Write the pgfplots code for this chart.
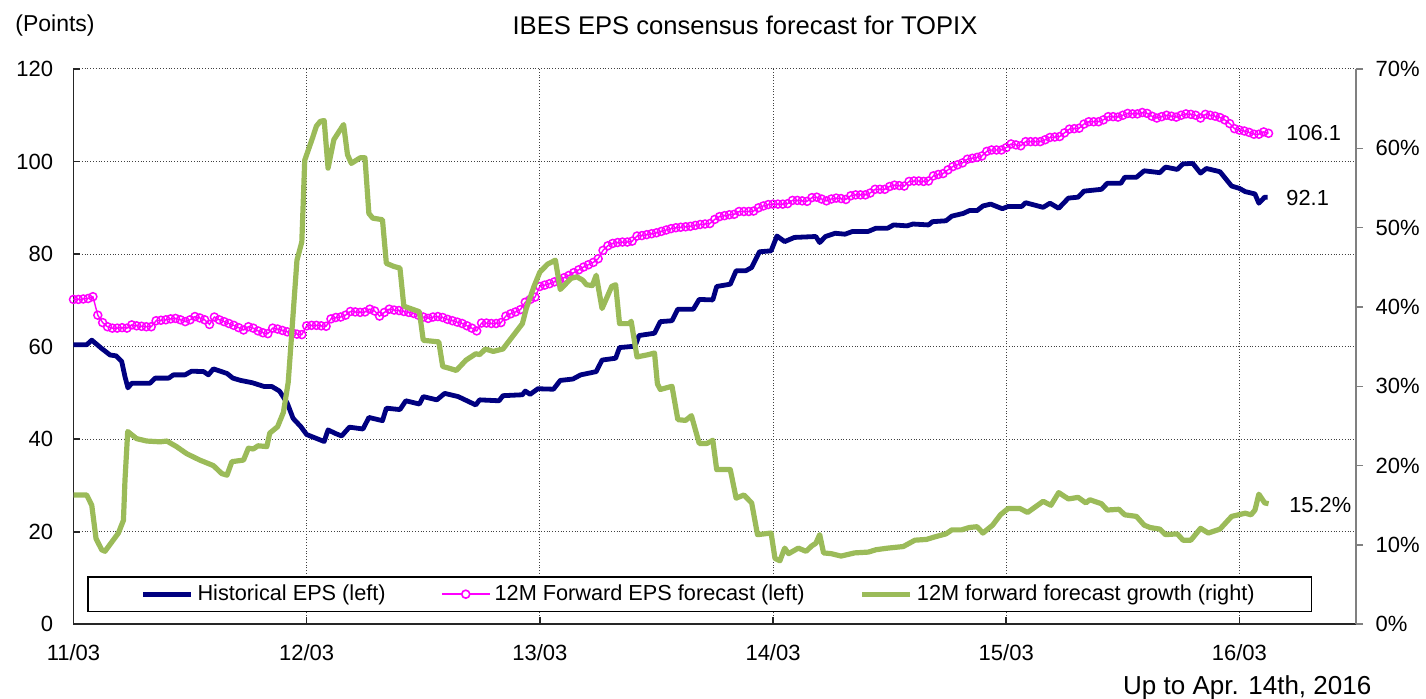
\documentclass[border=0pt]{standalone}
\usepackage{fontspec}
\setmainfont{Liberation Sans}
\usepackage{pgfplots}
\pgfplotsset{compat=1.18}
\definecolor{navyc}{RGB}{0,0,128}
\definecolor{pinkc}{RGB}{255,0,255}
\definecolor{greenc}{RGB}{155,187,89}
\begin{document}
\begin{tikzpicture}
\useasboundingbox (-36.75pt,-37.35pt) rectangle (676.25pt,312.15pt);
\begin{axis}[
 at={(0,0)}, anchor=south west,
 scale only axis, width=641.25pt, height=277.65pt,
 xmin=0, xmax=66, ymin=0, ymax=120,
 axis x line*=bottom, axis y line*=left,
 xtick={0,12,24,36,48,60}, xticklabels={11/03,12/03,13/03,14/03,15/03,16/03},
 ytick={0,20,40,60,80,100,120}, yticklabels={0,20,40,60,80,100,120},
 xmajorgrids, ymajorgrids,
 grid style={densely dotted, black!75, line width=0.5pt},
 axis line style={black!85, line width=0.8pt},
 tick style={black!85, line width=0.8pt},
 major tick length=3.5pt,
 tick align=inside,
 tick label style={font=\fontsize{11}{13}\selectfont},
 yticklabel style={xshift=-6.7pt},
 xticklabel style={yshift=-6.5pt},
 legend columns=3,
 legend cell align=left,
 legend style={at={(rel axis cs:0.0105,0.0215)}, anchor=south west,
   draw=black, line width=0.8pt, fill=white,
   font=\fontsize{10.85}{13}\selectfont,
   inner xsep=26.5pt, inner ysep=2pt,
   /tikz/every even column/.append style={column sep=25.6pt}},
 legend image code/.code={\draw[#1] (0pt,0pt) -- (24pt,0pt);},
]
\addplot[navyc, line width=2.4pt, line join=round] coordinates {
(0,60.4) (0.68,60.4) (0.94,61.4) (1.45,59.6) (1.88,58.2) (2.2,58.0) (2.48,56.8) (2.65,53.5) (2.8,51.1) (3.0,52.1) (3.94,52.1) (4.2,53.2) (4.9,53.2) (5.14,53.9) (5.74,53.9) (6.08,54.7) (6.7,54.6) (6.94,53.9) (7.2,55.2) (7.9,54.2) (8.2,53.2) (8.6,52.7) (9.2,52.2) (9.8,51.4) (10.2,51.4) (10.6,50.4) (11.0,47.8) (11.3,44.5) (11.7,42.7) (12.0,41.0) (12.9,39.5) (13.1,42.0) (13.5,41.2) (13.8,40.7) (14.2,42.6) (14.9,42.2) (15.2,44.7) (15.9,44.0) (16.1,46.7) (16.8,46.4) (17.1,48.3) (17.8,47.6) (18.0,49.2) (18.7,48.5) (19.1,49.9) (19.8,49.2) (20.7,47.4) (20.9,48.5) (21.9,48.3) (22.1,49.4) (23.1,49.6) (23.25,50.4) (23.5,49.7) (23.9,50.9) (24.7,50.8) (25.05,52.7) (25.7,53.0) (26.1,53.9) (26.9,54.6) (27.2,57.1) (27.9,57.5) (28.1,59.8) (28.9,60.1) (29.1,62.4) (29.9,62.9) (30.2,65.4) (30.8,65.6) (31.1,68.1) (31.9,68.1) (32.2,70.2) (32.9,70.1) (33.1,73.0) (33.8,73.5) (34.1,76.4) (34.6,76.4) (34.9,77.1) (35.3,80.5) (35.9,80.7) (36.2,83.9) (36.6,82.7) (37.1,83.6) (38.2,83.8) (38.4,82.5) (38.7,83.8) (39.2,84.5) (39.7,84.3) (40.1,84.9) (40.9,84.9) (41.3,85.6) (41.9,85.6) (42.2,86.3) (42.9,86.1) (43.2,86.5) (44.0,86.3) (44.2,87.0) (44.9,87.2) (45.2,88.2) (45.8,88.8) (46.1,89.4) (46.5,89.4) (46.8,90.4) (47.2,90.8) (47.8,89.8) (48.1,90.3) (48.8,90.3) (49.0,91.1) (49.9,90.1) (50.25,91.0) (50.7,89.9) (51.2,92.1) (51.7,92.3) (52.0,93.6) (52.9,94.0) (53.2,95.3) (53.9,95.3) (54.1,96.6) (54.7,96.6) (55.1,98.0) (55.9,97.6) (56.2,98.8) (56.8,98.3) (57.1,99.5) (57.6,99.6) (58.0,97.5) (58.3,98.5) (59.0,97.8) (59.6,94.7) (60.0,94.2) (60.3,93.5) (60.8,93.0) (61.0,91.0) (61.3,92.3) (61.45,92.3)
};
\addlegendentry{Historical EPS (left)}
\addplot[pinkc, line width=0.7pt, mark=o, mark size=2pt, mark options={solid, line width=0.75pt},
 legend image code/.code={\draw[pinkc, line width=0.9pt] (0pt,0pt) -- (24pt,0pt); \draw[pinkc, line width=0.8pt, fill=white] (12pt,0pt) circle (2pt);}] coordinates {
(0,70.2) (0.25,70.2) (0.5,70.3) (0.75,70.4) (1.0,70.8) (1.25,66.8) (1.5,65.2) (1.75,64.3) (2.0,64.0) (2.25,64.0) (2.5,64.1) (2.75,64.0) (3.0,64.7) (3.25,64.5) (3.5,64.4) (3.75,64.3) (4.0,64.3) (4.25,65.6) (4.5,65.7) (4.75,65.8) (5.0,66.0) (5.25,66.1) (5.5,65.8) (5.75,65.4) (6.0,65.8) (6.25,66.5) (6.5,66.2) (6.75,65.8) (7.0,64.8) (7.25,66.4) (7.5,65.8) (7.75,65.4) (8.0,65.0) (8.25,64.6) (8.5,64.1) (8.75,63.6) (9.0,64.3) (9.25,64.0) (9.5,63.4) (9.75,63.0) (10.0,62.8) (10.25,64.0) (10.5,63.8) (10.75,63.5) (11.0,63.2) (11.25,63.0) (11.5,62.7) (11.75,62.6) (12.0,64.5) (12.25,64.6) (12.5,64.6) (12.75,64.5) (13.0,64.4) (13.25,66.0) (13.5,66.3) (13.75,66.4) (14.0,66.8) (14.25,67.6) (14.5,67.5) (14.75,67.4) (15.0,67.5) (15.25,68.1) (15.5,67.7) (15.75,66.6) (16.0,67.4) (16.25,68.1) (16.5,67.9) (16.75,67.8) (17.0,67.6) (17.25,67.4) (17.5,67.2) (17.75,66.8) (18.0,66.4) (18.25,66.1) (18.5,66.4) (18.75,66.5) (19.0,66.3) (19.25,65.9) (19.5,65.6) (19.75,65.3) (20.0,65.0) (20.25,64.5) (20.5,64.0) (20.75,63.4) (21.0,65.1) (21.25,65.1) (21.5,65.0) (21.75,65.0) (22.0,65.2) (22.25,66.6) (22.5,67.1) (22.75,67.5) (23.0,68.0) (23.25,69.6) (23.5,70.2) (23.75,70.7) (24.0,73.0) (24.25,73.3) (24.5,73.6) (24.75,74.0) (25.0,74.4) (25.25,74.9) (25.5,75.4) (25.75,76.0) (26.0,76.6) (26.25,77.2) (26.5,77.7) (26.75,78.2) (27.0,79.0) (27.25,80.8) (27.5,81.8) (27.75,82.3) (28.0,82.5) (28.25,82.6) (28.5,82.6) (28.75,82.8) (29.0,83.9) (29.25,84.0) (29.5,84.2) (29.75,84.4) (30.0,84.6) (30.25,84.9) (30.5,85.2) (30.75,85.5) (31.0,85.7) (31.25,85.8) (31.5,85.9) (31.75,86.0) (32.0,86.2) (32.25,86.4) (32.5,86.5) (32.75,86.6) (33.0,87.5) (33.25,88.1) (33.5,88.3) (33.75,88.5) (34.0,88.6) (34.25,89.2) (34.5,89.2) (34.75,89.2) (35.0,89.3) (35.25,90.0) (35.5,90.4) (35.75,90.7) (36.0,90.8) (36.25,90.8) (36.5,90.8) (36.75,90.9) (37.0,91.6) (37.25,91.6) (37.5,91.5) (37.75,91.4) (38.0,92.2) (38.25,92.3) (38.5,91.9) (38.75,91.5) (39.0,91.9) (39.25,92.1) (39.5,92.0) (39.75,91.8) (40.0,92.6) (40.25,92.8) (40.5,92.8) (40.75,92.8) (41.0,93.2) (41.25,94.0) (41.5,94.0) (41.75,94.0) (42.0,94.6) (42.25,94.9) (42.5,94.8) (42.75,94.7) (43.0,95.7) (43.25,95.8) (43.5,95.8) (43.75,95.7) (44.0,95.8) (44.25,96.9) (44.5,97.2) (44.75,97.4) (45.0,98.2) (45.25,98.9) (45.5,99.3) (45.75,99.7) (46.0,100.5) (46.25,100.7) (46.5,100.9) (46.75,101.2) (47.0,102.2) (47.25,102.5) (47.5,102.5) (47.75,102.5) (48.0,103.0) (48.25,103.8) (48.5,103.6) (48.75,103.4) (49.0,104.3) (49.25,104.3) (49.5,104.3) (49.75,104.3) (50.0,104.7) (50.25,105.2) (50.5,105.3) (50.75,105.4) (51.0,106.2) (51.25,107.0) (51.5,107.1) (51.75,107.2) (52.0,108.1) (52.25,108.6) (52.5,108.6) (52.75,108.6) (53.0,109.0) (53.25,109.7) (53.5,109.7) (53.75,109.6) (54.0,110.0) (54.25,110.4) (54.5,110.3) (54.75,110.3) (55.0,110.6) (55.25,110.4) (55.5,109.8) (55.75,109.4) (56.0,109.7) (56.25,110.0) (56.5,109.8) (56.75,109.6) (57.0,110.0) (57.25,110.3) (57.5,110.2) (57.75,110.0) (58.0,109.4) (58.25,110.2) (58.5,110.0) (58.75,109.8) (59.0,109.5) (59.25,109.0) (59.5,108.2) (59.75,107.1) (60.0,106.8) (60.25,106.6) (60.5,106.3) (60.75,105.9) (61.0,105.9) (61.25,106.4) (61.5,106.1)
};
\addlegendentry{12M Forward EPS forecast (left)}
\addlegendimage{greenc, line width=2.6pt}
\addlegendentry{12M forward forecast growth (right)}
\node[anchor=west, inner sep=0pt, font=\fontsize{10.9}{13}\selectfont] at (axis cs:62.4,106.1) {106.1};
\node[anchor=west, inner sep=0pt, font=\fontsize{10.9}{13}\selectfont] at (axis cs:62.4,92.1) {92.1};
\end{axis}
\begin{axis}[
 at={(0,0)}, anchor=south west,
 scale only axis, width=641.25pt, height=277.65pt,
 xmin=0, xmax=66, ymin=0, ymax=70,
 axis x line=none, axis y line*=right,
 ytick={0,10,20,30,40,50,60,70},
 yticklabels={0\%,10\%,20\%,30\%,40\%,50\%,60\%,70\%},
 axis line style={gray, line width=1pt},
 tick style={gray, line width=0.8pt},
 major tick length=3.5pt,
 tick align=outside,
 tick label style={font=\fontsize{11}{13}\selectfont},
 yticklabel style={xshift=2.8pt},
]
\addplot[greenc, line width=2.6pt, line join=round] coordinates {
(0,16.3) (0.68,16.3) (0.94,15.0) (1.16,10.8) (1.45,9.4) (1.62,9.2) (2.31,11.5) (2.57,13.1) (2.65,18.2) (2.79,24.3) (3.25,23.4) (3.77,23.1) (4.46,23.0) (4.8,23.1) (5.3,22.4) (5.83,21.5) (6.5,20.7) (7.2,20.0) (7.63,19.0) (7.9,18.8) (8.15,20.5) (8.75,20.7) (9.0,22.2) (9.25,22.1) (9.5,22.5) (9.95,22.4) (10.1,24.1) (10.5,24.9) (10.8,26.7) (11.05,30.5) (11.5,45.9) (11.75,48.2) (11.9,58.5) (12.3,61.3) (12.5,62.8) (12.7,63.4) (12.9,63.5) (13.1,57.5) (13.4,61.1) (13.9,63.0) (14.1,59.2) (14.3,58.1) (14.75,58.8) (15.0,58.8) (15.2,51.8) (15.4,51.2) (15.9,51.0) (16.1,45.5) (16.5,45.1) (16.8,44.9) (17.0,40.1) (17.8,39.4) (18.0,35.8) (18.8,35.6) (19.0,32.5) (19.3,32.3) (19.7,32.0) (20.2,33.3) (20.7,34.1) (20.9,34.0) (21.2,34.7) (21.6,34.4) (22.1,34.7) (22.6,36.3) (23.1,37.9) (23.3,39.8) (23.7,42.6) (24.0,44.4) (24.4,45.4) (24.8,45.9) (25.05,42.2) (25.6,43.6) (25.9,43.8) (26.2,43.4) (26.4,42.8) (26.7,42.7) (26.9,44.0) (27.2,39.8) (27.7,42.6) (27.9,42.8) (28.1,37.9) (28.6,37.9) (28.7,38.2) (29.0,33.7) (29.6,34.0) (29.9,34.2) (30.05,30.3) (30.2,29.6) (30.8,30.0) (31.1,25.8) (31.5,25.7) (31.8,26.3) (32.2,22.8) (32.6,22.8) (32.9,23.2) (33.1,19.5) (33.8,19.5) (34.1,15.9) (34.3,16.1) (34.5,16.3) (34.9,15.3) (35.2,11.3) (35.9,11.5) (36.1,8.3) (36.35,8.0) (36.6,9.6) (36.8,8.9) (37.3,9.6) (37.7,9.2) (38.0,9.9) (38.2,10.2) (38.4,11.3) (38.6,9.0) (39.0,8.9) (39.5,8.6) (40.2,9.0) (40.9,9.1) (41.3,9.4) (41.9,9.6) (42.7,9.8) (43.3,10.6) (43.9,10.7) (44.3,11.0) (44.9,11.4) (45.2,11.9) (45.7,11.9) (46.1,12.2) (46.5,12.3) (46.8,11.5) (47.3,12.5) (47.7,13.8) (48.1,14.6) (48.7,14.6) (49.1,14.1) (49.9,15.5) (50.3,15.0) (50.7,16.6) (51.2,15.8) (51.7,16.0) (52.1,15.3) (52.3,15.7) (52.9,15.2) (53.2,14.4) (53.8,14.5) (54.1,13.8) (54.7,13.6) (55.1,12.5) (55.4,12.2) (55.9,12.0) (56.2,11.3) (56.8,11.4) (57.1,10.6) (57.5,10.6) (58.0,12.1) (58.4,11.5) (59.0,12.0) (59.6,13.6) (60.3,14.0) (60.6,13.8) (60.8,14.4) (61.0,16.4) (61.3,15.3) (61.5,15.2)
};
\node[anchor=west, inner sep=0pt, font=\fontsize{10.9}{13}\selectfont] at (axis cs:62.55,15.1) {15.2\%};
\end{axis}
\node[anchor=base, font=\fontsize{12.8}{15}\selectfont] at (335.75pt,294.65pt) {IBES EPS consensus forecast for TOPIX};
\node[anchor=base west, inner sep=0pt, font=\fontsize{11.5}{14}\selectfont] at (-29.25pt,296.3pt) {(Points)};
\node[anchor=base east, inner sep=0pt, font=\fontsize{13}{15}\selectfont] at (649.1pt,-35pt) {Up to Apr. 14th, 2016};
\end{tikzpicture}
\end{document}
